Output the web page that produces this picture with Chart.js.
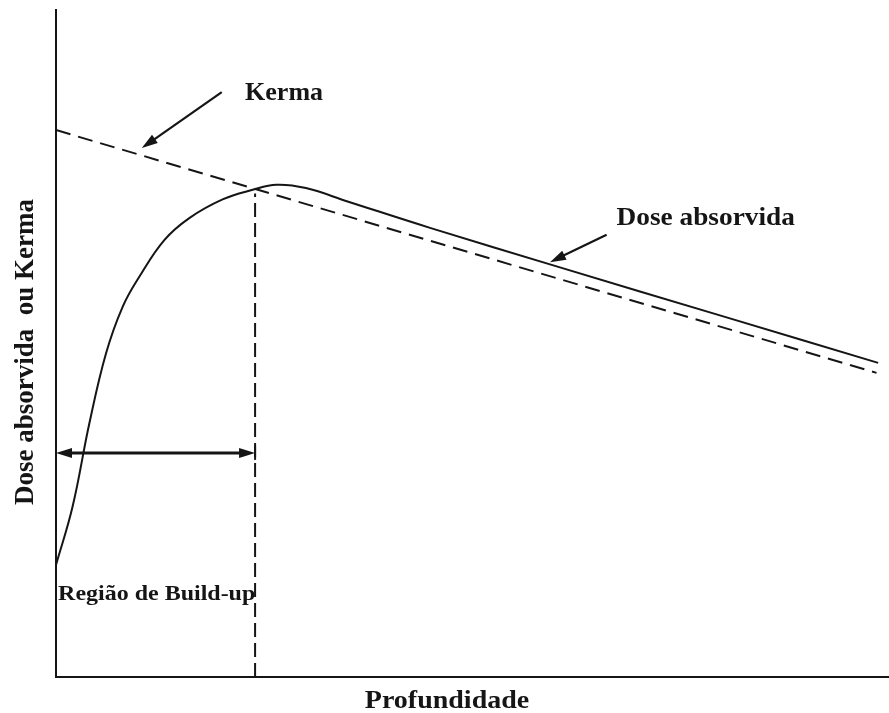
<!DOCTYPE html>
<html>
<head>
<meta charset="utf-8">
<script src="https://cdn.jsdelivr.net/npm/chart.js@4/dist/chart.umd.min.js"></script>
<style>
  html, body { margin: 0; padding: 0; background: #fff; }
  #wrap { width: 889px; height: 713px; }
</style>
</head>
<body>
<div id="wrap"><canvas id="chart"></canvas></div>
<script>
// depth (arbitrary units, 0-100) and relative values
const doseDepth  = [0, 2, 4, 6, 8, 10, 13, 16, 20, 23.5, 26.5, 30, 35, 45, 60, 80, 98.7];
const doseValue  = [16.8, 25.6, 38.0, 48.5, 55.5, 60.0, 65.5, 68.8, 71.6, 73.0, 73.8, 73.3, 71.3, 67.3, 61.6, 54.1, 47.1];
const kermaDepth = [0, 98.5];
const kermaValue = [82.0, 45.6];
const buildupDepth = [23.9, 23.9];
const buildupValue = [0, 72.5];

// annotation arrows (tail -> tip) and labels, in data units
const notes = {
  kermaArrow: [19.9, 87.7, 10.3, 79.3],
  doseArrow: [66.1, 66.3, 59.3, 62.2],
  buildupArrow: [0, 33.6, 23.9, 33.6],
  labels: [
    { text: 'Kerma', x: 22.7, y: 86.5, size: 26, stretch: 1.0 },
    { text: 'Dose absorvida', x: 67.3, y: 67.8, size: 26, stretch: 1.05 },
    { text: 'Região de Build-up', x: 0.25, y: 11.5, size: 22, stretch: 1.09 }
  ]
};

const ink = '#151515';
const serif = '"Liberation Serif", "Times New Roman", serif';

function pts(xs, ys) {
  return xs.map((x, i) => ({ x: x, y: ys[i] }));
}

function head(ctx, x0, y0, x1, y1, len, half) {
  const a = Math.atan2(y1 - y0, x1 - x0);
  ctx.beginPath();
  ctx.moveTo(x1, y1);
  ctx.lineTo(x1 - len * Math.cos(a) + half * Math.sin(a), y1 - len * Math.sin(a) - half * Math.cos(a));
  ctx.lineTo(x1 - len * Math.cos(a) - half * Math.sin(a), y1 - len * Math.sin(a) + half * Math.cos(a));
  ctx.closePath();
  ctx.fill();
}

const annotate = {
  id: 'annotate',
  afterDraw(chart) {
    const ctx = chart.ctx;
    const sx = chart.scales.x, sy = chart.scales.y;
    ctx.save();
    ctx.strokeStyle = ink;
    ctx.fillStyle = ink;

    // single arrows
    [notes.kermaArrow, notes.doseArrow].forEach(a => {
      const x0 = sx.getPixelForValue(a[0]), y0 = sy.getPixelForValue(a[1]);
      const x1 = sx.getPixelForValue(a[2]), y1 = sy.getPixelForValue(a[3]);
      ctx.lineWidth = 2.2;
      ctx.beginPath();
      ctx.moveTo(x0, y0);
      ctx.lineTo(x1 - (x1 - x0) * 0.12, y1 - (y1 - y0) * 0.12);
      ctx.stroke();
      head(ctx, x0, y0, x1, y1, 16, 5);
    });

    // double arrow over the build-up region
    const b = notes.buildupArrow;
    const bx0 = sx.getPixelForValue(b[0]), bx1 = sx.getPixelForValue(b[2]);
    const by = sy.getPixelForValue(b[1]);
    ctx.lineWidth = 3;
    ctx.beginPath();
    ctx.moveTo(bx0 + 10, by);
    ctx.lineTo(bx1 - 10, by);
    ctx.stroke();
    head(ctx, bx1, by, bx0, by, 16, 5);
    head(ctx, bx0, by, bx1, by, 16, 5);
    ctx.lineWidth = 2;
    ctx.beginPath();
    ctx.moveTo(bx1, by - 7);
    ctx.lineTo(bx1, by + 7);
    ctx.stroke();

    // labels
    ctx.textBaseline = 'alphabetic';
    ctx.textAlign = 'left';
    notes.labels.forEach(l => {
      ctx.save();
      ctx.font = 'bold ' + l.size + 'px ' + serif;
      ctx.translate(sx.getPixelForValue(l.x), sy.getPixelForValue(l.y));
      ctx.scale(l.stretch, 1);
      ctx.fillText(l.text, 0, 0);
      ctx.restore();
    });

    // axis titles
    ctx.save();
    ctx.font = 'bold 25px ' + serif;
    ctx.textAlign = 'center';
    ctx.translate(447, 708);
    ctx.scale(1.12, 1);
    ctx.fillText('Profundidade', 0, 0);
    ctx.restore();

    ctx.save();
    ctx.font = 'bold 27px ' + serif;
    ctx.textAlign = 'center';
    ctx.translate(33, 352);
    ctx.rotate(-Math.PI / 2);
    ctx.fillText('Dose absorvida  ou Kerma', 0, 0);
    ctx.restore();

    ctx.restore();
  }
};

new Chart(document.getElementById('chart'), {
  type: 'line',
  data: {
    datasets: [
      {
        label: 'Dose absorvida',
        data: pts(doseDepth, doseValue),
        borderColor: ink,
        borderWidth: 2,
        tension: 0.4,
        pointRadius: 0,
        fill: false
      },
      {
        label: 'Kerma',
        data: pts(kermaDepth, kermaValue),
        borderColor: ink,
        borderWidth: 2,
        borderDash: [15, 8],
        pointRadius: 0,
        fill: false
      },
      {
        label: 'Build-up',
        data: pts(buildupDepth, buildupValue),
        borderColor: ink,
        borderWidth: 2,
        borderDash: [14, 6],
        pointRadius: 0,
        fill: false
      }
    ]
  },
  options: {
    responsive: true,
    maintainAspectRatio: false,
    animation: false,
    layout: { padding: { left: 48, top: 10, right: 0, bottom: 28 } },
    plugins: {
      legend: { display: false },
      tooltip: { enabled: false }
    },
    scales: {
      x: {
        type: 'linear',
        min: 0,
        max: 100,
        grid: { display: false },
        ticks: { display: false },
        border: { display: true, color: ink, width: 2 }
      },
      y: {
        min: 0,
        max: 100,
        grid: { display: false },
        ticks: { display: false },
        border: { display: true, color: ink, width: 2 }
      }
    }
  },
  plugins: [annotate]
});
</script>
</body>
</html>
